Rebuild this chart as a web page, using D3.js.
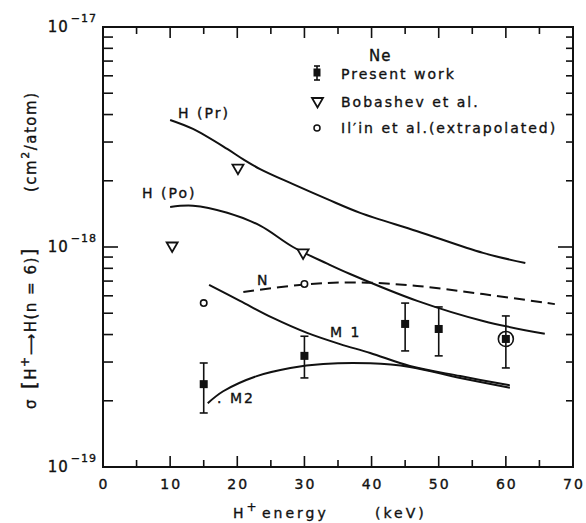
<!DOCTYPE html>
<html>
<head>
<meta charset="utf-8">
<script src="https://cdn.jsdelivr.net/npm/d3@7"></script>
<style>
  body { margin: 0; background: #fff; }
  svg { display: block; }
  text { font-family: "DejaVu Sans", sans-serif; fill: #111; stroke: #111; stroke-width: 0.35px; }
</style>
</head>
<body>
<div id="chart"></div>
<script>
// curves, [keV, cross section cm^2/atom]
const hPr = [[10, 3.78e-18], [13.4, 3.44e-18], [18.5, 2.79e-18], [20.9, 2.5e-18], [23.4, 2.26e-18],
  [28.3, 1.93e-18], [33.4, 1.65e-18], [38.3, 1.43e-18], [46.8, 1.18e-18], [56.6, 9.4e-19], [62.9, 8.46e-19]]
const hPo = [[10, 1.52e-18], [13.4, 1.54e-18], [18.5, 1.43e-18], [23.4, 1.25e-18], [28.3, 1.0e-18],
  [33.4, 8.4e-19], [36.8, 7.54e-19], [46.8, 5.69e-19], [56.6, 4.61e-19], [65.8, 4.03e-19]]
const nCurve = [[20.9, 6.24e-19], [30, 6.75e-19], [38, 6.9e-19], [46.8, 6.65e-19], [56.6, 6.11e-19], [67.3, 5.5e-19]]
const m1 = [[15.8, 6.72e-19], [20.4, 5.69e-19], [25.3, 4.76e-19], [30.4, 4.07e-19], [35.3, 3.62e-19],
  [39.8, 3.3e-19], [45.7, 2.88e-19], [53.2, 2.59e-19], [60.6, 2.35e-19]]
const m2 = [[15.6, 1.95e-19], [17.9, 2.21e-19], [22.9, 2.59e-19], [27.9, 2.82e-19], [32.8, 2.94e-19],
  [39.8, 2.96e-19], [45.7, 2.85e-19], [53.2, 2.54e-19], [60.6, 2.29e-19]]

// present work
const presentE = [15, 30, 45, 50, 60]
const presentVal = [2.38e-19, 3.2e-19, 4.47e-19, 4.24e-19, 3.82e-19]
const presentHi = [2.97e-19, 3.93e-19, 5.56e-19, 5.34e-19, 4.86e-19]
const presentLo = [1.76e-19, 2.54e-19, 3.37e-19, 3.2e-19, 2.82e-19]

// Bobashev et al.
const bobE = [10.3, 20.1, 29.8]
const bobVal = [1.0e-18, 2.26e-18, 9.3e-19]

// Il'in et al. (extrapolated)
const ilinE = [15, 30, 60]
const ilinVal = [5.56e-19, 6.79e-19, 3.82e-19]

const xTicks = [0, 10, 20, 30, 40, 50, 60, 70]
const xMinor = [5, 15, 25, 35, 45, 55, 65]
const yTicks = [1e-19, 1e-18, 1e-17]
const yExp = ['\u221219', '\u221218', '\u221217']

const curveLabels = [
  { t: 'H (Pr)', x: 178, y: 118 },
  { t: 'H (Po)', x: 142, y: 198 },
  { t: 'N', x: 257, y: 285 },
  { t: 'M 1', x: 330, y: 337 },
  { t: '. M2', x: 217, y: 403 }
]

const W = 586, H = 523
const svg = d3.select('#chart').append('svg').attr('width', W).attr('height', H)

const x = d3.scaleLinear().domain([0, 70]).range([103, 573])
const y = d3.scaleLog().domain([1e-19, 1e-17]).range([467, 27])

const g = svg.append('g')

// frame
g.append('rect')
  .attr('x', x(0)).attr('y', y(1e-17))
  .attr('width', x(70) - x(0)).attr('height', y(1e-19) - y(1e-17))
  .attr('fill', 'none').attr('stroke', '#111').attr('stroke-width', 2)

// ticks, inward
const tickG = g.append('g').attr('stroke', '#111').attr('stroke-width', 1.6)
xTicks.slice(1, -1).forEach(v => {
  tickG.append('line').attr('x1', x(v)).attr('x2', x(v)).attr('y1', y(1e-19)).attr('y2', y(1e-19) - 11)
  tickG.append('line').attr('x1', x(v)).attr('x2', x(v)).attr('y1', y(1e-17)).attr('y2', y(1e-17) + 11)
})
xMinor.forEach(v => {
  tickG.append('line').attr('x1', x(v)).attr('x2', x(v)).attr('y1', y(1e-19)).attr('y2', y(1e-19) - 7)
  tickG.append('line').attr('x1', x(v)).attr('x2', x(v)).attr('y1', y(1e-17)).attr('y2', y(1e-17) + 7)
})
const minorY = []
;[1e-19, 1e-18].forEach(d => { for (let k = 2; k <= 9; k++) minorY.push(d * k) })
minorY.forEach(v => {
  tickG.append('line').attr('x1', x(0)).attr('x2', x(0) + 10).attr('y1', y(v)).attr('y2', y(v))
  tickG.append('line').attr('x1', x(70)).attr('x2', x(70) - 7).attr('y1', y(v)).attr('y2', y(v))
})
tickG.append('line').attr('x1', x(0)).attr('x2', x(0) + 15).attr('y1', y(1e-18)).attr('y2', y(1e-18))
tickG.append('line').attr('x1', x(70)).attr('x2', x(70) - 15).attr('y1', y(1e-18)).attr('y2', y(1e-18))

// tick labels
g.selectAll('.xl').data(xTicks).enter().append('text')
  .attr('x', d => x(d) + 1).attr('y', 489)
  .attr('text-anchor', 'middle')
  .style('font-size', '14px').style('letter-spacing', '2px')
  .text(d => d)

yTicks.forEach((v, i) => {
  const t = g.append('text').attr('x', 97).attr('y', y(v) + 5)
    .attr('text-anchor', 'end').style('font-size', '15px').style('letter-spacing', '1px')
  t.append('tspan').text('10')
  t.append('tspan').attr('dx', 2).attr('dy', -10).style('font-size', '11px').text(yExp[i])
})

// curves
const line = d3.line().x(d => x(d[0])).y(d => y(d[1])).curve(d3.curveCatmullRom)
const curveG = g.append('g').attr('fill', 'none').attr('stroke', '#111').attr('stroke-width', 2)
;[hPr, hPo, m1, m2].forEach(c => curveG.append('path').attr('d', line(c)))
curveG.append('path').attr('d', line(nCurve)).attr('stroke-dasharray', '11,6')

// curve labels
g.selectAll('.cl').data(curveLabels).enter().append('text')
  .attr('x', d => d.x).attr('y', d => d.y)
  .style('font-size', '14px').style('letter-spacing', '2px')
  .text(d => d.t)

// Il'in circles (drawn large where it sits on a present-work point)
const onPresent = (e, v) => presentE.some((pe, j) => pe === e && Math.abs(presentVal[j] - v) / v < 0.05)
g.selectAll('.ilin').data(ilinE).enter().append('circle')
  .attr('cx', d => x(d)).attr('cy', (d, i) => y(ilinVal[i]))
  .attr('r', (d, i) => onPresent(d, ilinVal[i]) ? 7.5 : 3.2)
  .attr('fill', '#fff').attr('stroke', '#111').attr('stroke-width', 1.6)

// Bobashev triangles (pointing down)
const tri = (cx, cy) => `M${cx - 5.5},${cy - 4.5}L${cx + 5.5},${cy - 4.5}L${cx},${cy + 5}Z`
g.selectAll('.bob').data(bobE).enter().append('path')
  .attr('d', (d, i) => tri(x(d), y(bobVal[i])))
  .attr('fill', '#fff').attr('stroke', '#111').attr('stroke-width', 1.8)

// present work with error bars
const pw = g.selectAll('.pw').data(presentE).enter().append('g')
pw.append('line')
  .attr('x1', d => x(d)).attr('x2', d => x(d))
  .attr('y1', (d, i) => y(presentHi[i])).attr('y2', (d, i) => y(presentLo[i]))
  .attr('stroke', '#111').attr('stroke-width', 1.6)
pw.append('line')
  .attr('x1', d => x(d) - 4).attr('x2', d => x(d) + 4)
  .attr('y1', (d, i) => y(presentHi[i])).attr('y2', (d, i) => y(presentHi[i]))
  .attr('stroke', '#111').attr('stroke-width', 1.6)
pw.append('line')
  .attr('x1', d => x(d) - 4).attr('x2', d => x(d) + 4)
  .attr('y1', (d, i) => y(presentLo[i])).attr('y2', (d, i) => y(presentLo[i]))
  .attr('stroke', '#111').attr('stroke-width', 1.6)
pw.append('rect')
  .attr('x', d => x(d) - 4).attr('y', (d, i) => y(presentVal[i]) - 4)
  .attr('width', 8).attr('height', 8).attr('fill', '#111')

// legend
const lg = g.append('g')
lg.append('text').attr('x', 369).attr('y', 61).style('font-size', '15px').style('letter-spacing', '1px').text('Ne')
lg.append('line').attr('x1', 317).attr('x2', 317).attr('y1', 66).attr('y2', 80).attr('stroke', '#111').attr('stroke-width', 1.6)
lg.append('line').attr('x1', 314).attr('x2', 320).attr('y1', 66).attr('y2', 66).attr('stroke', '#111').attr('stroke-width', 1.6)
lg.append('line').attr('x1', 314).attr('x2', 320).attr('y1', 80).attr('y2', 80).attr('stroke', '#111').attr('stroke-width', 1.6)
lg.append('rect').attr('x', 313.5).attr('y', 68.5).attr('width', 7).attr('height', 8).attr('fill', '#111')
lg.append('path').attr('d', tri(317.5, 102.5)).attr('fill', '#fff').attr('stroke', '#111').attr('stroke-width', 1.8)
lg.append('circle').attr('cx', 317).attr('cy', 128).attr('r', 3).attr('fill', '#fff').attr('stroke', '#111').attr('stroke-width', 1.5)
const legendText = [['Present  work', 79], ['Bobashev et al.', 107], ['I\u006c\u2032in  et al.(extrapolated)', 133]]
legendText.forEach(([t, yy]) => {
  lg.append('text').attr('x', 341).attr('y', yy)
    .style('font-size', '14px').style('letter-spacing', '2px').text(t)
})

// x axis title
const xt = g.append('text').attr('x', 233).attr('y', 518)
  .style('font-size', '14px').style('letter-spacing', '3px')
xt.append('tspan').text('H')
xt.append('tspan').attr('dy', -7).style('font-size', '12px').text('+')
xt.append('tspan').attr('x', 262).attr('dy', 7).text('energy')
xt.append('tspan').attr('x', 375).text('(keV)')

// y axis title, rotated
const yt = g.append('g').attr('transform', 'translate(36,0) rotate(-90)')
yt.append('text').attr('x', -409).attr('y', 0).style('font-size', '15px').text('\u03c3')
const yb = yt.append('text').attr('x', -389).attr('y', 0).style('font-size', '15px').style('letter-spacing', '1.5px')
yb.append('tspan').style('font-size', '20px').text('[')
yb.append('tspan').text('H')
yb.append('tspan').attr('dy', -7).style('font-size', '12px').text('+')
yb.append('tspan').attr('dy', 7).text('\u27f6H(n = 6)')
yb.append('tspan').style('font-size', '20px').text(']')
const yc = yt.append('text').attr('x', -192).attr('y', 0).style('font-size', '15px').style('letter-spacing', '1.5px')
yc.append('tspan').text('(cm')
yc.append('tspan').attr('dy', -7).style('font-size', '11px').text('2')
yc.append('tspan').attr('dy', 7).text('/atom)')
</script>
</body>
</html>
